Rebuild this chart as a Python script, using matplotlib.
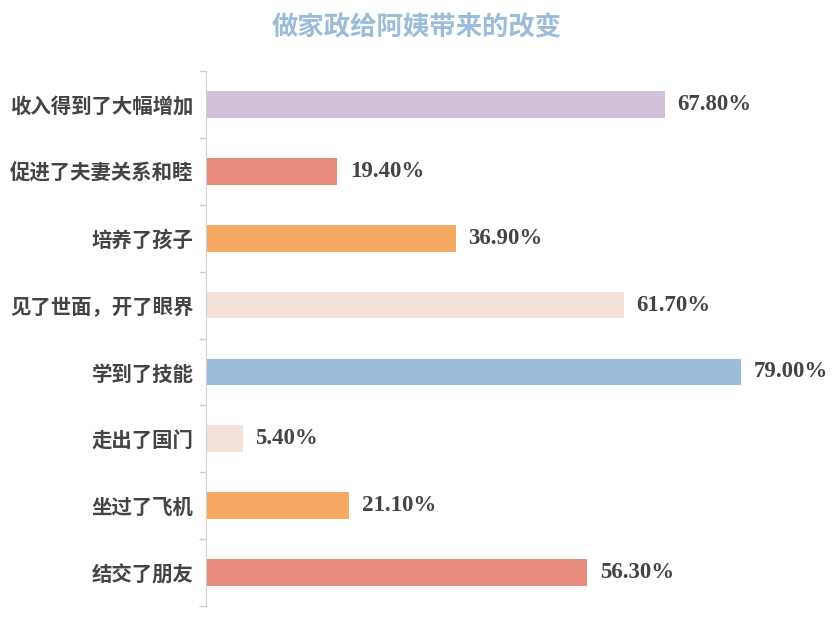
import numpy as np
import matplotlib
matplotlib.use('Agg')
import matplotlib.pyplot as plt

TITLE = '做家政给阿姨带来的改变'
categories = ['收入得到了大幅增加', '促进了夫妻关系和睦', '培养了孩子', '见了世面，开了眼界',
              '学到了技能', '走出了国门', '坐过了飞机', '结交了朋友']
values = [67.8, 19.4, 36.9, 61.7, 79.0, 5.4, 21.1, 56.3]
colors = ['#d0c0d8', '#e88c7d', '#f5a962', '#f4e2da', '#9dbcd9', '#f4e2da', '#f5a962', '#e88c7d']

plt.rcParams['font.family'] = ['Noto Sans CJK SC', 'DejaVu Sans']

fig = plt.figure(figsize=(8.34, 6.36), dpi=100)
ax = fig.add_axes([206 / 834, 1 - 606 / 636, 1 - 206 / 834, (606 - 71) / 636])

y = np.arange(len(categories))
ax.barh(y, values, height=0.4, color=colors)
ax.set_ylim(len(categories) - 0.5, -0.5)
ax.set_xlim(0, 92.8)

for yi, v in zip(y, values):
    ax.text(v + 1.9, yi, '%.2f%%' % v, va='center', ha='left', fontsize=16.5,
            fontweight='bold', color='#444444', family=['Liberation Serif', 'DejaVu Serif'])

ax.set_yticks(y)
ax.set_yticklabels(categories, fontsize=14.7, fontweight='bold', color='#444444')
ax.tick_params(axis='y', which='major', length=0, pad=9)
ax.set_yticks(np.arange(-0.5, len(categories), 1.0), minor=True)
ax.tick_params(axis='y', which='minor', length=5, color='#d0d0d0', width=1)
ax.set_xticks([])

for side in ['top', 'right', 'bottom']:
    ax.spines[side].set_visible(False)
ax.spines['left'].set_color('#d0d0d0')

fig.text(0.5, 1 - 28 / 636, TITLE, ha='center', va='center', fontsize=19,
         fontweight='bold', color='#9dbcd9')

fig.savefig('out.png', dpi=100)
